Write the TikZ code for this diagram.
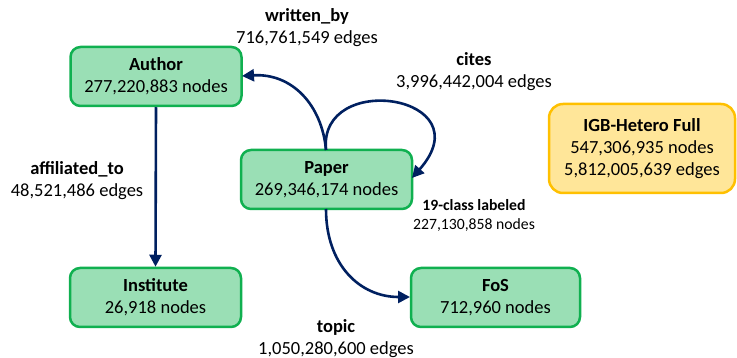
\documentclass[tikz,border=0pt]{standalone}
\usepackage{fontspec}
\setmainfont{Carlito}
\usetikzlibrary{arrows.meta}
\definecolor{boxfill}{HTML}{9ADFB5}
\definecolor{boxline}{HTML}{10B050}
\definecolor{yfill}{HTML}{FFE699}
\definecolor{yline}{HTML}{FFC000}
\definecolor{navy}{HTML}{002060}
\tikzset{
  entity/.style={draw=boxline, fill=boxfill, line width=2.5pt, rounded corners=10pt,
    minimum width=171pt, minimum height=59pt, align=center, inner sep=0pt,
    font=\fontsize{18.5}{22}\selectfont},
  summary/.style={draw=yline, fill=yfill, line width=2.5pt, rounded corners=14pt,
    minimum width=186pt, minimum height=89pt, align=center, inner sep=0pt,
    font=\fontsize{18.5}{22}\selectfont},
  lbl/.style={align=center, inner sep=0pt, font=\fontsize{18.5}{22}\selectfont},
  smalllbl/.style={align=center, inner sep=0pt, font=\fontsize{15.7}{19}\selectfont},
  rel/.style={draw=navy, line width=2.6pt, -{Triangle[length=12pt,width=12pt]}}
}
\begin{document}
\begin{tikzpicture}[x=1pt,y=-1pt]
\useasboundingbox (0,0) rectangle (737,358);
\node[entity] (author) at (156,76.5) {\textbf{Author}\\277,220,883 nodes};
\node[entity] (paper) at (326.5,179.5) {\textbf{Paper}\\269,346,174 nodes};
\node[entity] (inst) at (155.5,297.5) {\textbf{Institute}\\26,918 nodes};
\node[entity, minimum width=169pt] (fos) at (495.5,297.5) {\textbf{FoS}\\712,960 nodes};
\node[summary] (igb) at (642,148.5) {\textbf{IGB-Hetero Full}\\547,306,935 nodes\\5,812,005,639 edges};

\node[lbl] (wb) at (307,28) {\textbf{written\_by}\\716,761,549 edges};
\node[lbl] (ct) at (474,71.5) {\textbf{cites}\\3,996,442,004 edges};
\node[lbl] (af) at (77,180.5) {\textbf{affiliated\_to}\\48,521,486 edges};
\node[smalllbl] (lab) at (474,215.5) {\textbf{19-class labeled}\\227,130,858 nodes};
\node[lbl] (tp) at (336,338.5) {\textbf{topic}\\1,050,280,600 edges};

\coordinate (ptop) at (326,150);
\coordinate (pbot) at (326,209);
\coordinate (pright) at (412,178);
\coordinate (aright) at (242,76);
\coordinate (fleft) at (410,297);

\draw[rel] (author.south) -- (inst.north);
\draw[rel] (ptop) .. controls (322,105) and (292,73) .. (aright);
\draw[rel] (ptop) .. controls (318,70) and (485,95) .. (pright);
\draw[rel] (pbot) .. controls (326,265) and (360,297) .. (fleft);
\end{tikzpicture}
\end{document}
